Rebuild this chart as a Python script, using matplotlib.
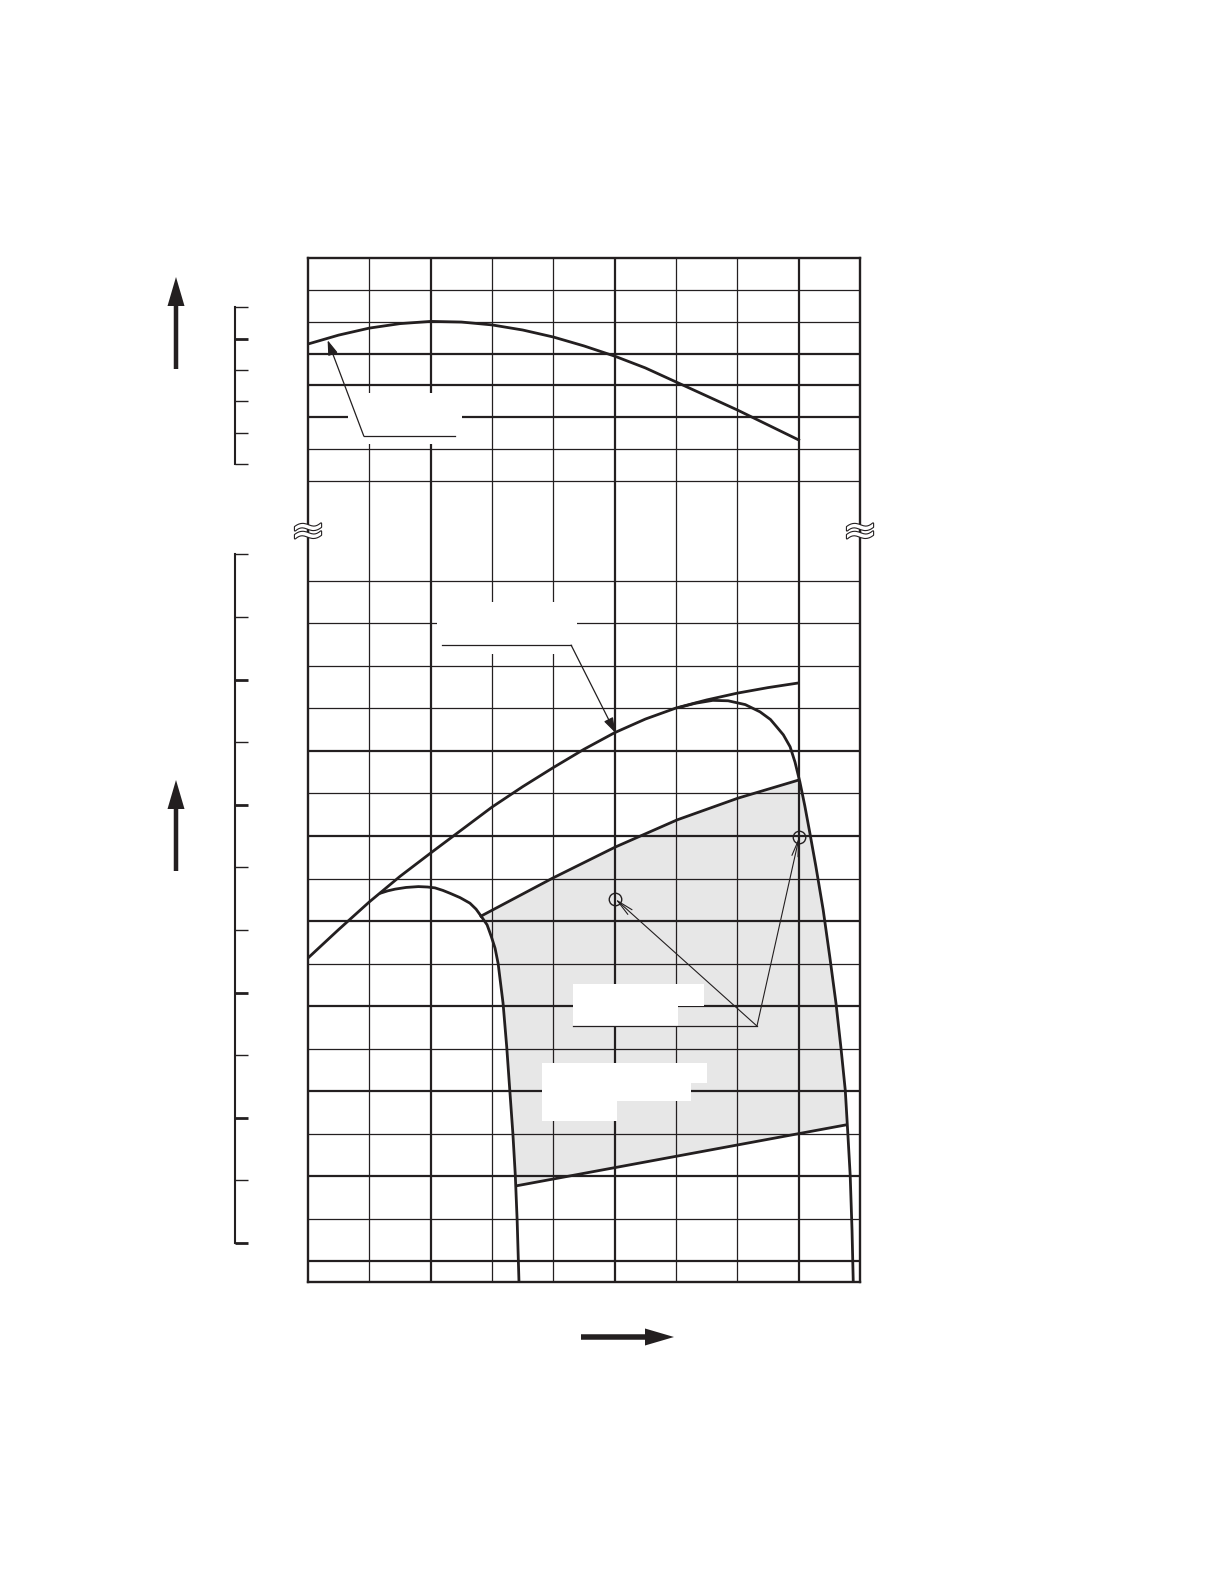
import numpy as np
import matplotlib
matplotlib.use("Agg")
import matplotlib.pyplot as plt
import matplotlib.patheffects as pe
from matplotlib.patches import Rectangle, Polygon, FancyArrow
from matplotlib.transforms import IdentityTransform

W, H = 1224, 1584
ink = '#231f20'
shade = '#e7e7e7'

# ---- data (x in grid columns, y in grid rows of each section) ----
# upper section curve
eff_x = [0, 0.5, 1, 1.5, 2, 2.5, 3, 3.5, 4, 4.5, 5, 5.5, 6, 6.5, 7, 7.5, 8]
eff_y = [4.30, 4.58, 4.80, 4.94, 5.01, 4.99, 4.90, 4.74, 4.52, 4.24, 3.92,
         3.55, 3.11, 2.67, 2.23, 1.76, 1.29]

# lower section: rising head curve
head_x = [0, 0.5, 1, 1.5, 2, 2.5, 3, 3.5, 4, 4.5, 5, 5.5, 6, 6.5, 7, 7.5, 8]
head_y = [7.13, 7.80, 8.45, 9.05, 9.60, 10.14, 10.68, 11.16, 11.61, 12.04,
          12.43, 12.75, 13.01, 13.20, 13.36, 13.49, 13.60]

# small loop (left)
small_x = [1.17, 1.30, 1.42, 1.60, 1.80, 1.95, 2.07, 2.20, 2.32, 2.48, 2.64,
           2.74, 2.83, 2.92, 2.99, 3.05, 3.10, 3.18, 3.24, 3.29, 3.34, 3.38,
           3.41, 3.44]
small_y = [8.65, 8.71, 8.75, 8.79, 8.81, 8.80, 8.78, 8.72, 8.65, 8.55, 8.42,
           8.28, 8.10, 7.91, 7.63, 7.36, 7.00, 6.07, 5.04, 4.02, 3.01, 2.02,
           0.96, -0.49]

# big loop (right)
big_x = [6.07, 6.31, 6.60, 6.85, 7.13, 7.37, 7.54, 7.64, 7.75, 7.86, 7.94,
         8.02, 8.10, 8.18, 8.28, 8.40, 8.51, 8.61, 8.69, 8.76, 8.80, 8.84,
         8.87, 8.89]
big_y = [13.03, 13.12, 13.19, 13.18, 13.09, 12.92, 12.74, 12.57, 12.38, 12.10,
         11.74, 11.27, 10.71, 10.09, 9.29, 8.26, 7.13, 6.05, 5.01, 4.02, 3.04,
         2.02, 0.73, -0.49]

# operating range limits
top_x = [2.80, 3.99, 5.01, 6.02, 7.01, 8.01]
top_y = [8.10, 9.01, 9.74, 10.38, 10.89, 11.32]
bot_x = [3.39, 8.79]
bot_y = [1.77, 3.21]

# marked points
mark_x = [5.01, 8.01]
mark_y = [8.52, 9.98]

# scale brackets (left)
up_ticks = [0, 1, 2, 3, 4, 5]
up_thick = [4]
lo_ticks = list(range(12))
lo_thick = [0, 2, 4, 7, 9]

x_thick = [2, 5, 8]
x_thin = [1, 3, 4, 6, 7]
up_rows_thick = [2, 3, 4]
up_rows_thin = [0, 1, 5, 6]
lo_rows_thick = [0, 2, 4, 6, 8, 10, 12]
lo_rows_thin = [1, 3, 5, 7, 9, 11, 13, 14, 15, 16]

# ---- layout (pixels) ----
L, R = 308, 860
TOP, BRK, BOT = 258, 532, 1282


def rect(x0, y0, x1, y1):
    return [x0 / W, 1 - y1 / H, (x1 - x0) / W, (y1 - y0) / H]


fig = plt.figure(figsize=(W / 100, H / 100), dpi=100)
fig.patch.set_facecolor('white')

ax_top = fig.add_axes(rect(L, TOP, R, BRK))
ax_bot = fig.add_axes(rect(L, BRK, R, BOT))
ax_top.set_ylim(-1.6, 7)
ax_bot.set_ylim(-0.49, 17.15)

for ax, rth, rtn in ((ax_top, up_rows_thick, up_rows_thin),
                     (ax_bot, lo_rows_thick, lo_rows_thin)):
    ax.set_xlim(0, 9)
    ax.set_xticks(x_thick)
    ax.set_xticks(x_thin, minor=True)
    ax.set_yticks(rth)
    ax.set_yticks(rtn, minor=True)
    ax.tick_params(which='both', length=0, labelbottom=False, labelleft=False)
    ax.grid(which='major', color=ink, lw=1.6)
    ax.grid(which='minor', color=ink, lw=0.9)
    ax.set_axisbelow('line')
    for s in ax.spines.values():
        s.set_linewidth(1.7)
        s.set_color(ink)
ax_top.spines['bottom'].set_visible(False)
ax_bot.spines['top'].set_visible(False)

# upper curve + leader
ax_top.plot(eff_x, eff_y, color=ink, lw=2.0, zorder=3)
ax_top.add_patch(Rectangle((0.65, 1.16), 1.86, 1.60, facecolor='white',
                           edgecolor='none', zorder=1.8))
ax_top.plot([0.91, 2.40], [1.41, 1.41], color=ink, lw=0.9, zorder=4)
ax_top.annotate('', xy=(0.32, 4.42), xytext=(0.91, 1.41),
                arrowprops=dict(arrowstyle='-|>,head_length=0.6,head_width=0.2',
                                color=ink, lw=0.9, shrinkA=0, shrinkB=0,
                                mutation_scale=15), zorder=4)

# shaded operating range
bx, by = np.array(big_x), np.array(big_y)
sx, sy = np.array(small_x), np.array(small_y)
mb = (by < top_y[-1]) & (by > bot_y[-1])
ms = (sy < top_y[0]) & (sy > bot_y[0])
px = list(top_x) + list(bx[mb]) + bot_x[::-1] + list(sx[ms][::-1])
py = list(top_y) + list(by[mb]) + bot_y[::-1] + list(sy[ms][::-1])
ax_bot.add_patch(Polygon(np.column_stack([px, py]), closed=True,
                         facecolor=shade, edgecolor='none', zorder=1))

# white label areas
for (x0, y0, w, h) in [(2.10, 14.28, 2.29, 1.23),
                       (4.32, 6.00, 2.14, 0.52), (4.32, 5.53, 1.72, 0.49),
                       (3.82, 4.19, 2.69, 0.47), (3.82, 3.76, 2.43, 0.43),
                       (3.82, 3.29, 1.22, 0.47)]:
    ax_bot.add_patch(Rectangle((x0, y0), w, h, facecolor='white',
                               edgecolor='none', zorder=1.8))

for cx, cy in ((head_x, head_y), (small_x, small_y), (big_x, big_y),
               (top_x, top_y), (bot_x, bot_y)):
    ax_bot.plot(cx, cy, color=ink, lw=2.0, zorder=3, solid_capstyle='butt',
                solid_joinstyle='round')

ax_bot.plot(mark_x, mark_y, 'o', ms=9, mfc='none', mec=ink, mew=1.0, zorder=4)

# leaders in lower section
ax_bot.plot([2.18, 4.29], [14.49, 14.49], color=ink, lw=0.9, zorder=4)
ax_bot.annotate('', xy=(5.01, 12.43), xytext=(4.29, 14.49),
                arrowprops=dict(arrowstyle='-|>,head_length=0.6,head_width=0.2',
                                color=ink, lw=0.9, shrinkA=0, shrinkB=0,
                                mutation_scale=15), zorder=4)
ax_bot.plot([4.32, 7.32], [5.53, 5.53], color=ink, lw=0.9, zorder=4)
for mx, my in zip(mark_x, mark_y):
    ax_bot.annotate('', xy=(mx, my), xytext=(7.32, 5.53),
                    arrowprops=dict(arrowstyle='->,head_length=0.8,head_width=0.15',
                                    color=ink, lw=0.8, shrinkA=0, shrinkB=0,
                                    mutation_scale=15), zorder=4)


# left scale brackets
def bracket(host, ylim, ticks, thick):
    b = fig.add_axes(host.get_position().bounds, facecolor='none')
    b.set_ylim(*ylim)
    b.set_xticks([])
    for k in ('top', 'right', 'bottom'):
        b.spines[k].set_visible(False)
    b.spines['left'].set_position(('outward', 52.6))
    b.spines['left'].set_bounds(ticks[0], ticks[-1])
    b.spines['left'].set_linewidth(1.5)
    b.spines['left'].set_color(ink)
    b.set_yticks(thick)
    b.set_yticks([t for t in ticks if t not in thick], minor=True)
    b.tick_params(axis='y', which='major', direction='in', length=9.4,
                  width=2.0, color=ink, labelleft=False)
    b.tick_params(axis='y', which='minor', direction='in', length=9.4,
                  width=1.0, color=ink, labelleft=False)
    return b


bracket(ax_top, (-2.173, 6.581), up_ticks, up_thick)
bracket(ax_bot, (-0.623, 11.358), lo_ticks, lo_thick)

# direction arrows
for (x0, y0, x1, y1, wd) in [(176, 369, 176, 277, 4.5), (176, 871, 176, 780, 4.5),
                             (581, 1337, 674, 1337, 5.5)]:
    fig.add_artist(FancyArrow(x0, H - y0, x1 - x0, -(y1 - y0), width=wd,
                              head_width=17, head_length=29,
                              length_includes_head=True, color=ink, lw=0,
                              transform=IdentityTransform()))

# axis break marks
for bxp in (L, R):
    fig.text(bxp / W, 1 - 532 / H, '\u2248', fontsize=30, color='white',
             ha='center', va='center', family='DejaVu Sans',
             path_effects=[pe.Stroke(linewidth=1.6, foreground=ink), pe.Normal()])

fig.savefig('out.png', dpi=100, facecolor='white')
